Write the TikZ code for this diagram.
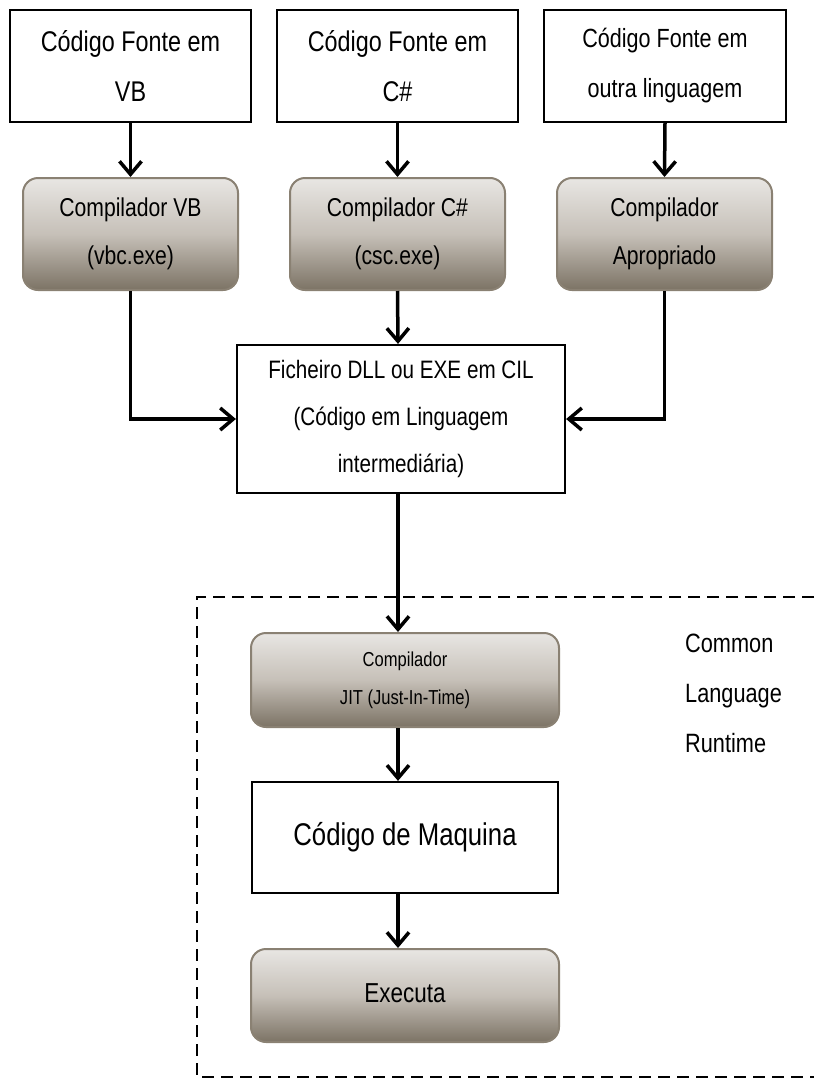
\documentclass[tikz,border=0pt]{standalone}
\usepackage{fontspec}
\setmainfont{Liberation Sans}[FakeStretch=0.82]
\usetikzlibrary{arrows.meta}
\definecolor{gtop}{HTML}{E8E6E3}
\definecolor{gmid}{HTML}{C6C0B8}
\definecolor{gbot}{HTML}{7C7365}
\definecolor{boxedge}{HTML}{8A8173}
\begin{document}
\begin{tikzpicture}[x=1pt,y=-1pt,
  srcbox/.style={draw=black, line width=2.2pt, fill=white, align=center, inner sep=0pt},
  compbox/.style={draw=boxedge, line width=2pt, rounded corners=15pt, top color=gtop, bottom color=gbot, middle color=gmid, align=center, inner sep=0pt},
  conn/.style={line width=3.5pt, -{Straight Barb[length=13pt,width=22pt]}},
  clr/.style={line width=2.6pt, dash pattern=on 12pt off 7pt}]
\useasboundingbox (0,0) rectangle (814,1079);
% top source boxes
\node[srcbox, minimum width=241pt, minimum height=112pt, font=\fontsize{28.5}{50}\selectfont] (vb) at (130.5,66) {Código Fonte em\\VB};
\node[srcbox, minimum width=241pt, minimum height=112pt, font=\fontsize{28.5}{50}\selectfont] (cs) at (397.5,66) {Código Fonte em\\C\#};
\node[srcbox, minimum width=242pt, minimum height=112pt, font=\fontsize{26.3}{50}\selectfont] (ot) at (665,66) {Código Fonte em\\outra linguagem};
% compilers
\node[compbox, minimum width=215pt, minimum height=112pt, font=\fontsize{25.8}{48}\selectfont] (cvb) at (130.5,234) {Compilador VB\\(vbc.exe)};
\node[compbox, minimum width=215pt, minimum height=112pt, font=\fontsize{25.8}{48}\selectfont] (ccs) at (397.5,234) {Compilador C\#\\(csc.exe)};
\node[compbox, minimum width=215pt, minimum height=112pt, font=\fontsize{25.8}{48}\selectfont] (cot) at (664.5,234) {Compilador\\Apropriado};
% DLL box
\node[srcbox, minimum width=328pt, minimum height=148pt, font=\fontsize{25.2}{47}\selectfont] (dll) at (401,419) {Ficheiro DLL ou EXE em CIL\\(Código em Linguagem\\intermediária)};
% CLR region
\node[compbox, minimum width=308pt, minimum height=94pt, font=\fontsize{20.2}{38}\selectfont] (jit) at (405,680) {Compilador\\JIT (Just-In-Time)};
\node[srcbox, minimum width=306pt, minimum height=111pt, font=\fontsize{31.4}{36}\selectfont] (maq) at (405,837.5) {Código de Maquina};
\node[compbox, minimum width=308pt, minimum height=93pt, font=\fontsize{27.4}{30}\selectfont] (exe) at (405,995.5) {\raisebox{4pt}{Executa}};
\node[anchor=west, align=left, inner sep=0pt, font=\fontsize{26.5}{50}\selectfont] (clr) at (685,693) {Common\\Language\\Runtime};
% dashed region
\coordinate (dtr) at (814,597);
\coordinate (dtl) at (197,597);
\coordinate (dbl) at (197,1077);
\coordinate (dbr) at (814,1077);
\draw[clr] (dtr) -- (dtl) -- (dbl) -- (dbr);
% connectors
\draw[conn] (vb.south) -- (cvb.north);
\draw[conn] (cs.south) -- (ccs.north);
\draw[conn] (ot.south) -- (cot.north);
\coordinate (ax) at (398,0);
\draw[conn] (ccs.south) -- (ax |- dll.north);
\draw[conn] (cvb.south) |- (dll.west);
\draw[conn] (cot.south) |- (dll.east);
\draw[conn] (ax |- dll.south) -- (ax |- jit.north);
\draw[conn] (ax |- jit.south) -- (ax |- maq.north);
\draw[conn] (ax |- maq.south) -- (ax |- exe.north);
\end{tikzpicture}
\end{document}
